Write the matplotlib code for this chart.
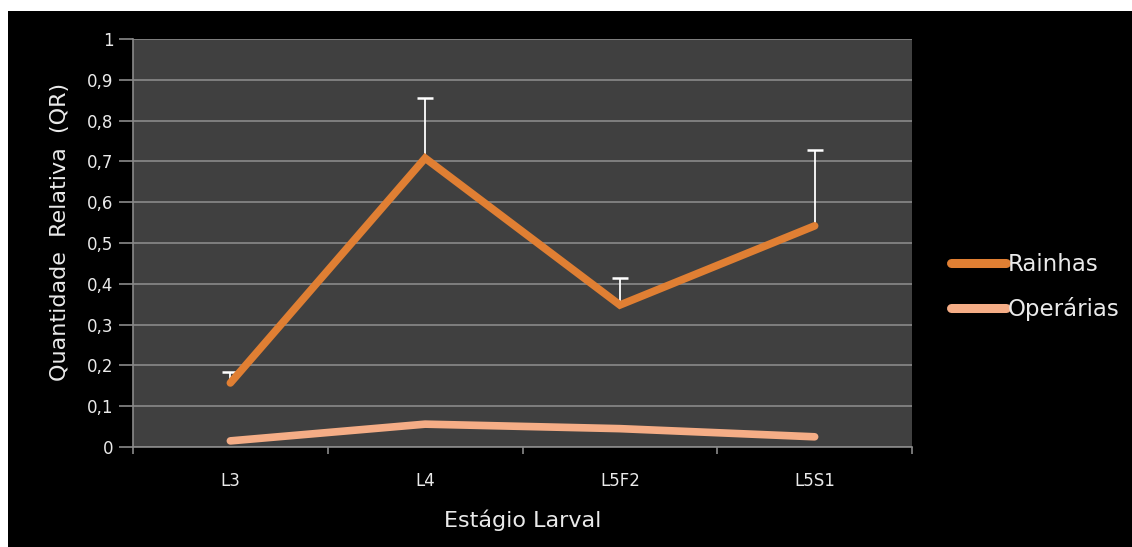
import numpy as np
import matplotlib
matplotlib.use("Agg")
import matplotlib.pyplot as plt
from matplotlib.patches import Rectangle

stages = ["L3", "L4", "L5F2", "L5S1"]
rainhas = [0.157, 0.708, 0.348, 0.542]
rainhas_err = [0.027, 0.147, 0.066, 0.186]
operarias = [0.015, 0.056, 0.045, 0.025]

orange = "#E07F33"
peach = "#F5AD86"
grid_c = "#8A8A8A"
text_c = "#EAEAEA"

fig = plt.figure(figsize=(11.32, 5.47), dpi=100, facecolor="white")
fig.patches.append(Rectangle((8 / 1132, 0), 1, (547 - 11) / 547,
                             transform=fig.transFigure, facecolor="black",
                             edgecolor="none", zorder=-10))

ax = fig.add_axes([133 / 1132, (547 - 447) / 547, (912 - 133) / 1132, (447 - 39) / 547])
ax.set_facecolor("#404040")

x = np.arange(len(stages)) + 0.5
upper = np.array(rainhas) + np.array(rainhas_err)

# upper-only error bars: stem from the mean plus a cap on top
ax.vlines(x, rainhas, upper, color="white", lw=1.3, zorder=3)
ax.plot(x, upper, ls="none", marker="_", ms=11, mew=1.8, color="white", zorder=3)

ax.plot(x, rainhas, color=orange, lw=5.5, solid_capstyle="round",
        solid_joinstyle="miter", zorder=4, label="Rainhas")
ax.plot(x, operarias, color=peach, lw=5.5, solid_capstyle="round",
        zorder=4, label="Operárias")

ax.set_xlim(0, 4)
ax.set_ylim(0, 1)
ax.set_yticks(np.arange(0, 1.01, 0.1))
ax.set_yticklabels(["0"] + [f"0,{i}" for i in range(1, 10)] + ["1"])
ax.set_xticks(np.arange(0, 5))
ax.set_xticklabels([])
ax.set_xticks(x, minor=True)
ax.set_xticklabels(stages, minor=True)

ax.yaxis.grid(True, color=grid_c, lw=1.2)
ax.set_axisbelow(True)
for s in ["top", "right"]:
    ax.spines[s].set_visible(False)
for s in ["left", "bottom"]:
    ax.spines[s].set_color(grid_c)
    ax.spines[s].set_linewidth(1.2)

ax.tick_params(axis="y", colors=grid_c, length=10, width=1.2, labelsize=12,
               labelcolor=text_c, pad=4)
ax.tick_params(axis="x", which="major", colors=grid_c, length=5, width=1.2)
ax.tick_params(axis="x", which="minor", length=0, labelsize=12,
               labelcolor=text_c, pad=18)

ax.set_xlabel("Estágio Larval", color=text_c, fontsize=16)
ax.xaxis.set_label_coords(0.5, (447 - 520) / 408)
ax.xaxis.label.set_va("center")
ax.set_ylabel("Quantidade  Relativa  (QR)", color=text_c, fontsize=16)
ax.yaxis.set_label_coords((60 - 133) / 779, (447 - 232) / 408)
ax.yaxis.label.set_va("center")

leg = ax.legend(loc="center left", bbox_to_anchor=(930 / 1132, (547 - 287) / 547),
                bbox_transform=fig.transFigure, frameon=False, fontsize=16.5,
                handlelength=2.4, handletextpad=0.1, labelspacing=0.9)
for t in leg.get_texts():
    t.set_color(text_c)
for h in leg.get_lines():
    h.set_linewidth(6.5)

fig.savefig("out.png", dpi=100, facecolor=fig.get_facecolor())
